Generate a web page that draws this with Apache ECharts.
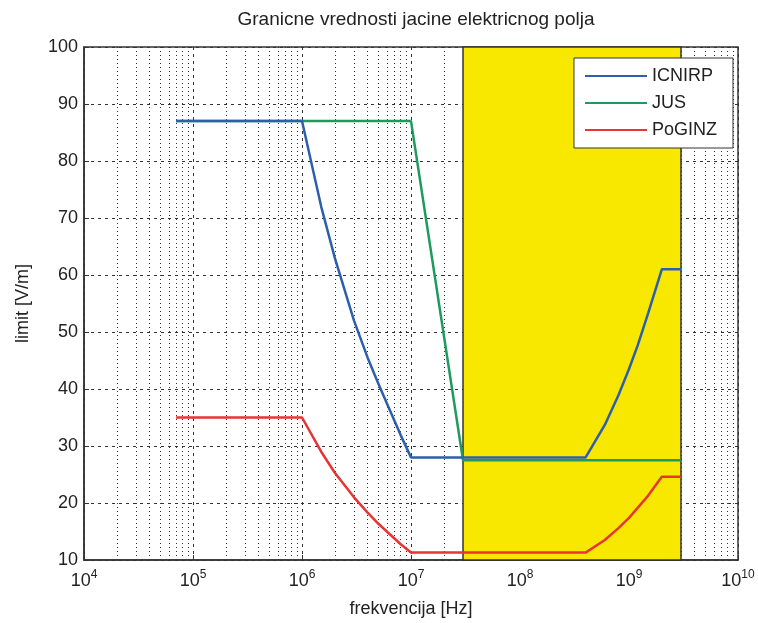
<!DOCTYPE html>
<html>
<head>
<meta charset="utf-8">
<script src="https://cdn.jsdelivr.net/npm/echarts@6/dist/echarts.min.js"></script>
<style>
  html, body { margin: 0; padding: 0; background: #fff; }
  #main { width: 758px; height: 623px; }
</style>
</head>
<body>
<div id="main"></div>
<script>
// frequencies in Hz, limits in V/m
var icnirpFreq = [7e4, 1e6, 1.5e6, 2e6, 3e6, 4e6, 5e6, 6e6, 8e6, 1e7, 4e8, 6e8, 8e8, 1e9, 1.2e9, 1.5e9, 2e9, 3e9];
var icnirpVals = [87, 87, 72, 63, 52, 45.5, 41, 37.5, 32, 28, 28, 33.7, 38.9, 43.5, 47.6, 53.3, 61, 61];

var jusFreq = [7e4, 1e7, 3e7, 3e9];
var jusVals = [87, 87, 27.5, 27.5];

var poginzFreq = [7e4, 1e6, 1.5e6, 2e6, 3e6, 4e6, 5e6, 6e6, 8e6, 1e7, 4e8, 6e8, 8e8, 1e9, 1.5e9, 2e9, 3e9];
var poginzVals = [35, 35, 29, 25.3, 21, 18.3, 16.4, 15, 12.8, 11.3, 11.3, 13.5, 15.6, 17.4, 21.3, 24.6, 24.6];

// highlighted band
var bandFrom = 3e7;
var bandTo = 3e9;

// log grid: minor lines at 2..9 of each decade
var decades = [1e4, 1e5, 1e6, 1e7, 1e8, 1e9];
var minorSteps = [2, 3, 4, 5, 6, 7, 8, 9];

function pairs(xs, ys) {
    return xs.map(function (x, i) { return [x, ys[i]]; });
}

var minorLines = [];
decades.forEach(function (d) {
    minorSteps.forEach(function (k) { minorLines.push({ xAxis: k * d }); });
});

var font = "'Liberation Sans', Arial, sans-serif";
var myChart = echarts.init(document.getElementById('main'));

myChart.setOption({
    animation: false,
    backgroundColor: '#fff',
    title: {
        text: 'Granicne vrednosti jacine elektricnog polja',
        left: 411,
        textAlign: 'center',
        top: 5,
        textStyle: { fontFamily: font, fontSize: 19, fontWeight: 'normal', color: '#222' }
    },
    grid: {
        left: 84, right: 20, top: 47, bottom: 59,
        show: true, borderColor: '#333', borderWidth: 1.5, backgroundColor: '#fff'
    },
    legend: {
        orient: 'vertical',
        right: 25, top: 58,
        backgroundColor: '#fff',
        borderColor: '#333', borderWidth: 1,
        padding: [9, 16, 9, 10],
        itemWidth: 62, itemHeight: 14, itemGap: 9,
        itemStyle: { opacity: 0 },
        textStyle: { fontFamily: font, fontSize: 18, color: '#222' },
        data: ['ICNIRP', 'JUS', 'PoGINZ']
    },
    xAxis: {
        type: 'log',
        logBase: 10,
        min: 1e4, max: 1e10,
        interval: 1,
        name: 'frekvencija [Hz]',
        nameLocation: 'middle',
        nameGap: 40,
        nameTextStyle: { fontFamily: font, fontSize: 18, color: '#222' },
        axisLine: { lineStyle: { color: '#333', width: 1.5 } },
        axisTick: { inside: true, length: 5, lineStyle: { color: '#333' } },
        splitLine: { show: true, lineStyle: { color: '#333', type: [3, 4], width: 1 } },
        axisLabel: {
            margin: 9,
            formatter: function (v) {
                return '{b|10}{e|' + Math.round(Math.log10(v)) + '}';
            },
            rich: {
                b: { fontFamily: font, fontSize: 18, color: '#222' },
                e: { fontFamily: font, fontSize: 12, color: '#222', padding: [0, 0, 13, 0] }
            }
        }
    },
    yAxis: {
        type: 'value',
        min: 10, max: 100, interval: 10,
        name: 'limit [V/m]',
        nameLocation: 'middle',
        nameGap: 52,
        nameTextStyle: { fontFamily: font, fontSize: 18, color: '#222' },
        axisLine: { show: true, lineStyle: { color: '#333', width: 1.5 } },
        axisTick: { show: true, inside: true, length: 5, lineStyle: { color: '#333' } },
        splitLine: { show: true, lineStyle: { color: '#333', type: [3, 4], width: 1 } },
        axisLabel: { fontFamily: font, fontSize: 18, color: '#222', margin: 6 }
    },
    series: [
        {
            name: 'grid',
            type: 'line',
            data: [],
            silent: true,
            markLine: {
                silent: true,
                z: 1,
                symbol: 'none',
                label: { show: false },
                animation: false,
                lineStyle: { color: '#333', type: [1, 3], width: 1 },
                data: minorLines
            }
        },
        {
            name: 'band',
            type: 'line',
            data: [],
            silent: true,
            markArea: {
                silent: true,
                z: 3,
                itemStyle: { color: '#f8e800', borderColor: '#333', borderWidth: 1.5, opacity: 1 },
                data: [[{ xAxis: bandFrom }, { xAxis: bandTo }]]
            }
        },
        {
            name: 'PoGINZ',
            type: 'line',
            symbol: 'none',
            z: 5,
            lineStyle: { color: '#e83434', width: 2.5 },
            itemStyle: { color: '#e83434' },
            data: pairs(poginzFreq, poginzVals)
        },
        {
            name: 'JUS',
            type: 'line',
            symbol: 'none',
            z: 6,
            lineStyle: { color: '#1f9a5e', width: 2.5 },
            itemStyle: { color: '#1f9a5e' },
            data: pairs(jusFreq, jusVals)
        },
        {
            name: 'ICNIRP',
            type: 'line',
            symbol: 'none',
            z: 7,
            lineStyle: { color: '#2d5fae', width: 2.5 },
            itemStyle: { color: '#2d5fae' },
            data: pairs(icnirpFreq, icnirpVals)
        }
    ]
});
</script>
</body>
</html>
